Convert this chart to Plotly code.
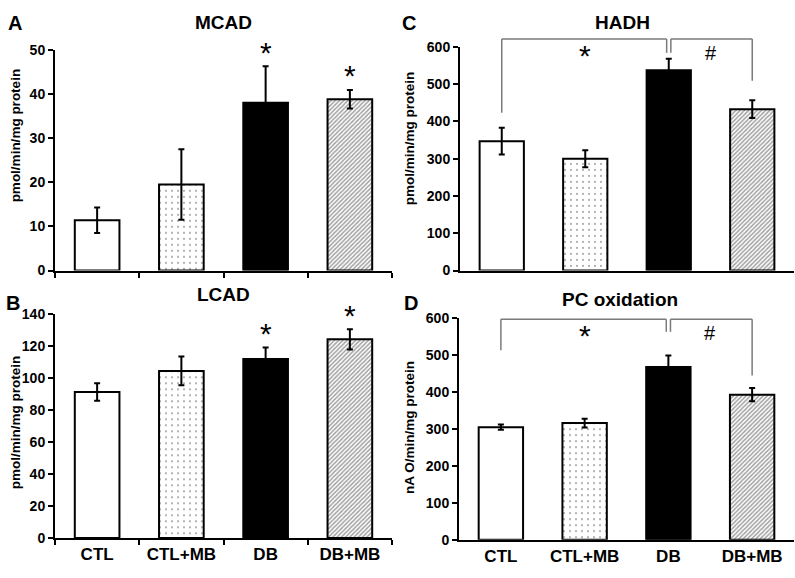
import plotly.graph_objects as go
from plotly.subplots import make_subplots

groups = ["CTL", "CTL+MB", "DB", "DB+MB"]

mcad = [11.4, 19.5, 38.0, 38.8]
mcad_err = [2.9, 8.0, 8.3, 2.1]
lcad = [91.3, 104.5, 112.0, 124.3]
lcad_err = [5.5, 9.0, 7.2, 6.3]
hadh = [347, 300, 537, 433]
hadh_err = [36, 23, 31, 24]
pc_ox = [305, 316, 468, 393]
pc_ox_err = [7, 12, 31, 18]

# significance marks: "*" above these groups in A and B
star_groups = ["DB", "DB+MB"]
# bracket heights in data units: top line, CTL foot, DB stubs, DB+MB foot
hadh_bracket = [621, 423, 584, 509]
pc_bracket = [597, 513, 563, 445]

W, H = 795, 578
FONT = "Liberation Sans, Arial, sans-serif"

fills = ["white", "white", "black", "white"]
shapes_pat = ["", ".", "", "/"]
fg_pat = ["black", "#222222", "black", "#222222"]
size_pat = [6, 6, 6, 3]
sol_pat = [0.3, 0.1, 0.3, 0.5]

# panel layout (pixel positions in the 795x578 picture)
panels = {
    "A": dict(x=(55, 392), y=(43, 270), top=50, dtick=10),
    "C": dict(x=(460, 794), y=(40, 270), top=600, dtick=100),
    "B": dict(x=(55, 392), y=(315, 545), top=140, dtick=20),
    "D": dict(x=(459, 794), y=(319, 547), top=600, dtick=100),
}

fig = make_subplots(rows=2, cols=2)

data = [
    ("A", 1, 1, mcad, mcad_err),
    ("C", 1, 2, hadh, hadh_err),
    ("B", 2, 1, lcad, lcad_err),
    ("D", 2, 2, pc_ox, pc_ox_err),
]

for name, r, c, vals, errs in data:
    fig.add_trace(go.Bar(
        x=groups, y=vals, width=0.53,
        marker=dict(color=fills, line=dict(color="black", width=2),
                    pattern=dict(shape=shapes_pat, fgcolor=fg_pat, bgcolor=fills,
                                 size=size_pat, solidity=sol_pat)),
        error_y=dict(type="data", array=errs, visible=True, color="black",
                     thickness=2, width=3),
        showlegend=False,
    ), row=r, col=c)

axis_ids = {"A": ("xaxis", "yaxis", "x", "y"), "C": ("xaxis2", "yaxis2", "x2", "y2"),
            "B": ("xaxis3", "yaxis3", "x3", "y3"), "D": ("xaxis4", "yaxis4", "x4", "y4")}


def px_x(p):
    return p / W


def px_y(p):
    return 1 - p / H


for name, p in panels.items():
    xa, ya, _, _ = axis_ids[name]
    xdom = [px_x(p["x"][0]), px_x(p["x"][1])]
    ydom = [px_y(p["y"][1]), px_y(p["y"][0])]
    p["xdom"], p["ydom"] = xdom, ydom
    fig.layout[xa].update(
        domain=xdom, range=[-0.5, 3.5], showline=True, linecolor="black", linewidth=2,
        showgrid=False, zeroline=False,
        ticks="outside" if name in ("A", "B") else "", tickson="boundaries",
        ticklen=5, tickwidth=1.5, tickcolor="black",
        showticklabels=name in ("B", "D"),
        tickfont=dict(family=FONT, size=17, color="black", weight="bold"),
    )
    fig.layout[ya].update(
        domain=ydom, range=[0, p["top"]], dtick=p["dtick"], showline=True,
        linecolor="black", linewidth=2, showgrid=False, zeroline=False,
        ticks="outside", ticklen=5, tickwidth=1.5, tickcolor="black",
        tickfont=dict(family=FONT, size=14, color="black", weight="bold"),
    )


def data_to_paper(name, v):
    p = panels[name]
    return p["ydom"][0] + v / p["top"] * (p["ydom"][1] - p["ydom"][0])


annotations = []
# panel titles and letters
titles = [("A", "MCAD", 223, 15, 15, 15), ("C", "HADH", 622, 15, 409, 15),
          ("B", "LCAD", 223, 295, 13, 303), ("D", "PC oxidation", 620, 300, 411, 303)]
for letter, title, tx, ty, lx, ly in titles:
    annotations.append(dict(text=title, x=px_x(tx), y=px_y(ty), xref="paper", yref="paper",
                            showarrow=False, xanchor="center", yanchor="middle",
                            font=dict(family=FONT, size=19, color="black", weight="bold")))
    annotations.append(dict(text=letter, x=px_x(lx), y=px_y(ly), xref="paper", yref="paper",
                            showarrow=False, xanchor="center", yanchor="middle",
                            font=dict(family=FONT, size=20, color="black", weight="bold")))

# y axis titles
ytitles = [("pmol/min/mg protein", 15, 131), ("pmol/min/mg protein", 409, 134),
           ("pmol/min/mg protein", 15, 426), ("nA O/min/mg protein", 409, 432)]
for t, tx, ty in ytitles:
    annotations.append(dict(text=t, x=px_x(tx), y=px_y(ty), xref="paper", yref="paper",
                            showarrow=False, textangle=-90, xanchor="center", yanchor="middle",
                            font=dict(family=FONT, size=13.5, color="black", weight="bold")))

# stars in A and B
for name, vals, errs in [("A", mcad, mcad_err), ("B", lcad, lcad_err)]:
    _, _, xr, yr = axis_ids[name]
    for g in star_groups:
        i = groups.index(g)
        annotations.append(dict(text="*", x=g, y=vals[i] + errs[i], xref=xr, yref=yr,
                                showarrow=False, yanchor="middle", yshift=14,
                                font=dict(family=FONT, size=30, color="black")))

# brackets in C and D
shapes = []
for name, br in [("C", hadh_bracket), ("D", pc_bracket)]:
    _, _, xr, yr = axis_ids[name]
    top, foot_l, stub, foot_r = [data_to_paper(name, v) for v in br]
    xl, xm, xr_ = 0, 2, 3
    segs = [
        (xl, foot_l, xl, top), (xl, top, xm - 0.025, top), (xm - 0.025, top, xm - 0.025, stub),
        (xm + 0.025, stub, xm + 0.025, top), (xm + 0.025, top, xr_, top), (xr_, top, xr_, foot_r),
    ]
    for x0, y0, x1, y1 in segs:
        shapes.append(dict(type="line", xref=xr, yref="paper", x0=x0, x1=x1, y0=y0, y1=y1,
                           line=dict(color="#7a7a7a", width=1.5)))
    ymark = data_to_paper(name, br[0])
    annotations.append(dict(text="*", x=(xl + xm) / 2, y=ymark, xref=xr, yref="paper",
                            showarrow=False, yanchor="middle", yshift=-16,
                            font=dict(family=FONT, size=30, color="black")))
    annotations.append(dict(text="#", x=(xm + xr_) / 2, y=ymark, xref=xr, yref="paper",
                            showarrow=False, yanchor="middle", yshift=-14,
                            font=dict(family=FONT, size=20, color="black")))

fig.update_layout(
    width=W, height=H, margin=dict(l=0, r=0, t=0, b=0),
    plot_bgcolor="white", paper_bgcolor="white",
    annotations=annotations, shapes=shapes,
    bargap=0.47,
)

fig.write_html("out.html", config={"displayModeBar": False},
               post_script="document.body.style.margin='0px';")
